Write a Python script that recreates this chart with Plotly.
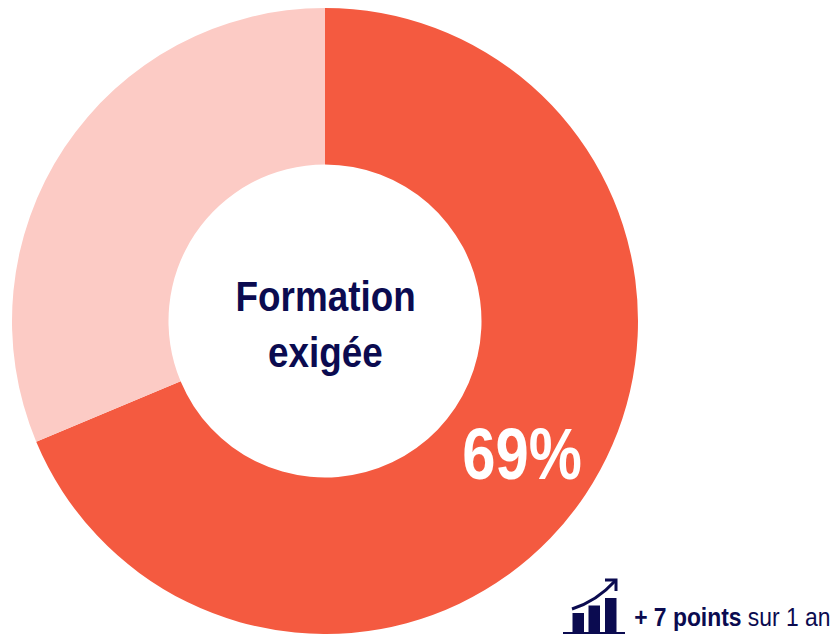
import plotly.graph_objects as go

categories = ["Formation exigée", "Autres"]
values = [68.7, 31.3]
colors = ["#F45A40", "#FCCBC5"]
center_lines = ["Formation", "exigée"]
NAVY = "#0B0B50"
W, H = 836, 634
FONT = "Liberation Sans"

def px(x): return x / W
def py(y): return 1 - y / H

fig = go.Figure(go.Pie(
    labels=categories, values=values, hole=0.5, sort=False, direction="clockwise",
    rotation=0, marker=dict(colors=colors, line=dict(width=0)), textinfo="none",
    hoverinfo="label+percent", showlegend=False,
    domain=dict(x=[px(12), px(638)], y=[py(634), py(8)]),
))

def note(x, y, text, size, color):
    fig.add_annotation(x=px(x), y=py(y), xref="paper", yref="paper", text=text, showarrow=False,
                       xanchor="center", yanchor="middle", align="center",
                       font=dict(family=FONT, size=size, color=color))

note(325, 296, f"<b>{center_lines[0]}</b>", 42, NAVY)
note(325, 352, f"<b>{center_lines[1]}</b>", 42, NAVY)
note(522, 454, f"<b>{round(values[0])}%</b>", 72, "white")
note(732.5, 617, "<b>+ 7 points</b> sur 1 an", 25, NAVY)

def rect(x0, y0, x1, y1):
    fig.add_shape(type="rect", xref="paper", yref="paper", x0=px(x0), x1=px(x1), y0=py(y0), y1=py(y1),
                  fillcolor=NAVY, line_width=0)

rect(572.5, 613, 584, 632)
rect(588.5, 605.5, 600, 632)
rect(605, 598, 616.5, 632)
rect(563, 632, 625, 634)

def p(x, y): return f"{px(x)} {py(y)}"
fig.add_shape(type="path", xref="paper", yref="paper",
              path=f"M {p(572,609)} Q {p(597,601)} {p(615,581)}", line=dict(color=NAVY, width=3))
fig.add_shape(type="path", xref="paper", yref="paper",
              path=f"M {p(605,580)} L {p(616,580)} L {p(616,591)}", line=dict(color=NAVY, width=3))

fig.update_layout(width=W, height=H, margin=dict(l=0, r=0, t=0, b=0),
                  paper_bgcolor="white", plot_bgcolor="white")

# The reference's type is horizontally condensed Arial: squeeze each annotation about its centre.
squeeze = """
document.body.style.margin = '0';
var sx = [0.877, 0.877, 0.83, 0.915];
document.querySelectorAll('.annotation-text').forEach(function (t, i) {
  var b = t.getBBox(), c = b.x + b.width / 2;
  t.setAttribute('transform', 'translate(' + c + ',0) scale(' + sx[i] + ',1) translate(' + (-c) + ',0)');
});
"""
fig.write_html("out.html", post_script=squeeze, config={"displayModeBar": False})
